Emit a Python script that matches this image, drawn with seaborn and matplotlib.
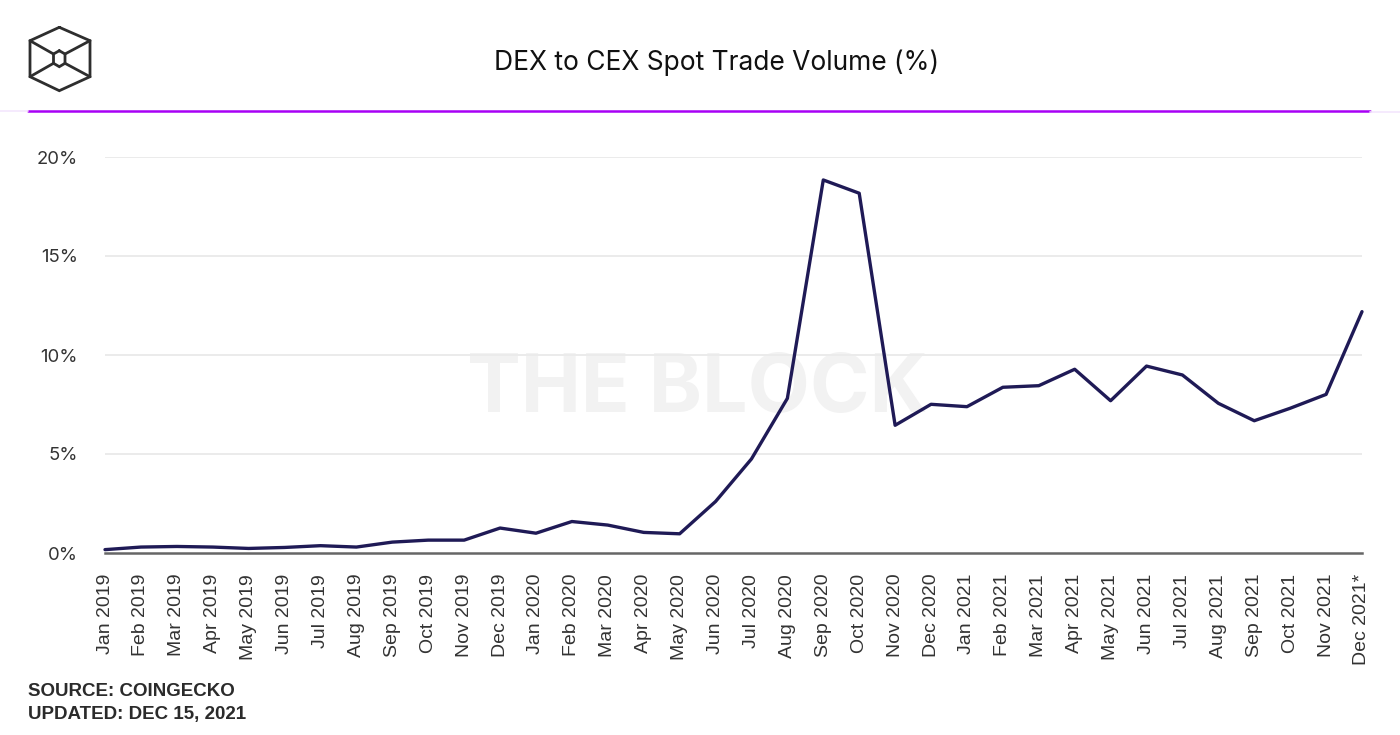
import matplotlib
matplotlib.use("Agg")
import matplotlib.pyplot as plt
from matplotlib.lines import Line2D
import seaborn as sns
import pandas as pd

months = ["Jan 2019", "Feb 2019", "Mar 2019", "Apr 2019", "May 2019", "Jun 2019",
          "Jul 2019", "Aug 2019", "Sep 2019", "Oct 2019", "Nov 2019", "Dec 2019",
          "Jan 2020", "Feb 2020", "Mar 2020", "Apr 2020", "May 2020", "Jun 2020",
          "Jul 2020", "Aug 2020", "Sep 2020", "Oct 2020", "Nov 2020", "Dec 2020",
          "Jan 2021", "Feb 2021", "Mar 2021", "Apr 2021", "May 2021", "Jun 2021",
          "Jul 2021", "Aug 2021", "Sep 2021", "Oct 2021", "Nov 2021", "Dec 2021*"]
ratio_pct = [0.17, 0.30, 0.33, 0.30, 0.23, 0.28, 0.37, 0.30, 0.55, 0.65, 0.65, 1.26,
             1.00, 1.59, 1.41, 1.04, 0.97, 2.60, 4.75, 7.81, 18.84, 18.17, 6.45, 7.51,
             7.39, 8.37, 8.45, 9.28, 7.69, 9.44, 8.99, 7.56, 6.68, 7.31, 8.01, 12.19]
y_ticks = [0, 5, 10, 15, 20]
y_tick_labels = ["0%", "5%", "10%", "15%", "20%"]

title = "DEX to CEX Spot Trade Volume (%)"
source_lines = ["SOURCE: COINGECKO", "UPDATED: DEC 15, 2021"]

df = pd.DataFrame({"month": months, "value": ratio_pct})
df["pos"] = range(len(df))

sns.set_theme(style="white")
plt.rcParams["font.family"] = ["Liberation Sans", "DejaVu Sans"]

W, H = 1400, 735
fig = plt.figure(figsize=(14, 7.35), dpi=100)
fig.patch.set_facecolor("white")

def fx(px):
    return px / W

def fy(py):
    return 1 - py / H

ax_left, ax_right, ax_top, ax_bottom = 105, 1362, 157, 553
ax = fig.add_axes([fx(ax_left), fy(ax_bottom), fx(ax_right - ax_left), (ax_bottom - ax_top) / H])
ax.set_facecolor("white")

sns.lineplot(data=df, x="pos", y="value", ax=ax, color="#1f1a56", linewidth=2.4,
             sort=False, zorder=3, clip_on=False)

ax.set_xlim(0, len(months) - 1)
ax.set_ylim(0, 20)
ax.set_yticks(y_ticks)
ax.set_yticklabels(y_tick_labels, family=["Inter", "DejaVu Sans"], fontsize=13.3, color="#333333")
ax.set_xticks(list(df["pos"]))
ax.set_xticklabels(months, rotation=90, fontsize=14, color="#333333", va="top", ha="center")
ax.tick_params(axis="x", length=0, pad=15)
ax.tick_params(axis="y", length=0, pad=19.5)
ax.set_xlabel("")
ax.set_ylabel("")

for s in ["top", "right", "left"]:
    ax.spines[s].set_visible(False)
ax.spines["bottom"].set_color("#666666")
ax.spines["bottom"].set_linewidth(1.8)
ax.spines["bottom"].set_zorder(4)

for v in y_ticks[1:]:
    ax.axhline(v, color="#ebebeb", linewidth=1.4, zorder=1)

# watermark
ax.text(0.4715, 0.41, "THE BLOCK", transform=ax.transAxes, ha="center", va="center",
        fontsize=58, fontweight="bold", color="#f2f2f2", family=["Inter", "DejaVu Sans"], zorder=0.5)

# title
fig.text(fx(717), fy(63), title, ha="center", va="center", fontsize=19,
         family=["Inter", "DejaVu Sans"], color="#111111")

# purple rule
fig.add_artist(Line2D([fx(28), fx(1370)], [fy(111), fy(111)], color="#a800f5", linewidth=1.8))
fig.add_artist(Line2D([fx(0), fx(28)], [fy(111), fy(111)], color="#f3e6fd", linewidth=1.2))
fig.add_artist(Line2D([fx(1370), fx(1400)], [fy(112), fy(112)], color="#f3e6fd", linewidth=1.2))

# logo (cube)
logo_color = "#2e2e2e"
outer = [(59.3, 27.3), (90, 40.7), (90, 76.7), (59.3, 90.7), (30, 76.7), (30, 40.7), (59.3, 27.3)]
inner = [(59.3, 50.7), (65, 54), (65, 63.3), (59.3, 66.7), (53.5, 63.3), (53.5, 54), (59.3, 50.7)]
def draw_poly(pts, lw=2.0):
    fig.add_artist(Line2D([fx(p[0]) for p in pts], [fy(p[1]) for p in pts],
                          color=logo_color, linewidth=lw, solid_joinstyle="miter"))
draw_poly(outer)
draw_poly(inner)
for a, b in [((30, 40.7), (53.5, 54)), ((90, 40.7), (65, 54)),
             ((30, 76.7), (53.5, 63.3)), ((90, 76.7), (65, 63.3))]:
    draw_poly([a, b])

# source
fig.text(fx(28), fy(692), source_lines[0], ha="left", va="center", fontsize=13.5,
         fontweight="bold", color="#2b2b2b")
fig.text(fx(28), fy(714), source_lines[1], ha="left", va="center", fontsize=13.5,
         fontweight="bold", color="#2b2b2b")

fig.savefig("out.png", dpi=100, facecolor="white")
